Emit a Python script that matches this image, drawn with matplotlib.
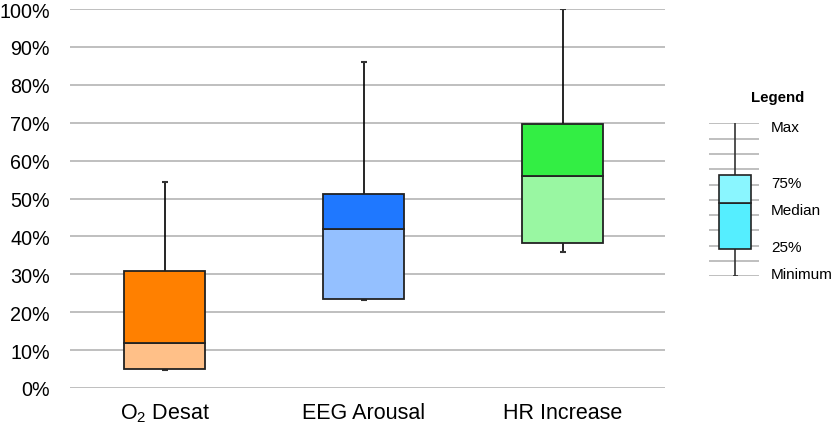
import matplotlib
matplotlib.use("Agg")
import matplotlib.pyplot as plt

plt.rcParams["font.family"] = ["Liberation Sans", "DejaVu Sans"]
plt.rcParams["mathtext.default"] = "regular"

# Data (percent)
categories = ["O$_2$ Desat", "EEG Arousal", "HR Increase"]
minimum = [4.7, 23.2, 35.9]
q1 = [5.0, 23.5, 38.3]
median = [11.9, 42.0, 55.9]
q3 = [30.9, 51.2, 69.7]
maximum = [54.4, 86.0, 100.0]
dark_colors = ["#ff8000", "#1f78ff", "#33ee44"]
light_colors = ["#ffc088", "#94c0ff", "#99f7a2"]

# Legend example box (arbitrary units on the legend grid)
legend_stats = {"min": 0.0, "q1": 1.8, "med": 4.8, "q3": 6.6, "max": 10.0}
legend_labels = ["Max", "75%", "Median", "25%", "Minimum"]

W, H = 832, 427
fig = plt.figure(figsize=(W / 100, H / 100), dpi=100)

# Main chart
ax = fig.add_axes([70 / W, (H - 389) / H, 595 / W, 379 / H])
x = list(range(len(categories)))
bw = 0.407
for i in x:
    ax.vlines(i, minimum[i], maximum[i], color="black", lw=1.2, zorder=2)
    ax.hlines([minimum[i], maximum[i]], i - 0.015, i + 0.015, color="#333333", lw=1.5, zorder=2)
ax.bar(x, [m - a for m, a in zip(median, q1)], bottom=q1, width=bw,
       color=light_colors, edgecolor="#222222", linewidth=1.3, zorder=3)
ax.bar(x, [b - m for b, m in zip(q3, median)], bottom=median, width=bw,
       color=dark_colors, edgecolor="#222222", linewidth=1.3, zorder=3)

ax.set_xlim(-0.477, 2.513)
ax.set_ylim(0, 100)
ax.set_yticks(range(0, 101, 10))
ax.set_yticklabels([f"{v}%" for v in range(0, 101, 10)])
ax.set_xticks(x)
ax.set_xticklabels(categories)
ax.yaxis.grid(True, color="#b4b4b4", lw=1.2)
ax.set_axisbelow(True)
ax.tick_params(axis="y", length=0, pad=14.5, labelsize=14.2)
ax.tick_params(axis="x", length=0, pad=10, labelsize=15.5)
for s in ax.spines.values():
    s.set_visible(False)

# Legend panel
lax = fig.add_axes([709 / W, (H - 277.3) / H, 50 / W, 153 / H])
lax.set_xlim(0, 1)
lax.set_ylim(0, 10)
for yv in range(11):
    lax.axhline(yv, color="#b4b4b4", lw=1.2, zorder=1)
lax.vlines(0.52, legend_stats["min"], legend_stats["max"], color="#333333", lw=1.2, zorder=2)
lax.hlines([legend_stats["min"]], 0.47, 0.57, color="#333333", lw=1.2, zorder=2)
lax.bar([0.52], [legend_stats["med"] - legend_stats["q1"]], bottom=legend_stats["q1"], width=0.64,
        color="#55eeff", edgecolor="#222222", linewidth=1.2, zorder=3)
lax.bar([0.52], [legend_stats["q3"] - legend_stats["med"]], bottom=legend_stats["med"], width=0.64,
        color="#8af6ff", edgecolor="#222222", linewidth=1.2, zorder=3)
lax.axis("off")

label_y = [legend_stats["max"], legend_stats["q3"], legend_stats["med"], legend_stats["q1"], legend_stats["min"]]
label_offsets = [-0.25, -0.53, -0.47, 0.13, 0.13]
for lbl, yv, off in zip(legend_labels, label_y, label_offsets):
    lax.text(1.24, yv + off, lbl, fontsize=11, va="center", ha="left")
lax.text(1.38, 11.75, "Legend", fontsize=10.8, fontweight="bold", ha="center", va="center")

fig.savefig("out.png", dpi=100)
